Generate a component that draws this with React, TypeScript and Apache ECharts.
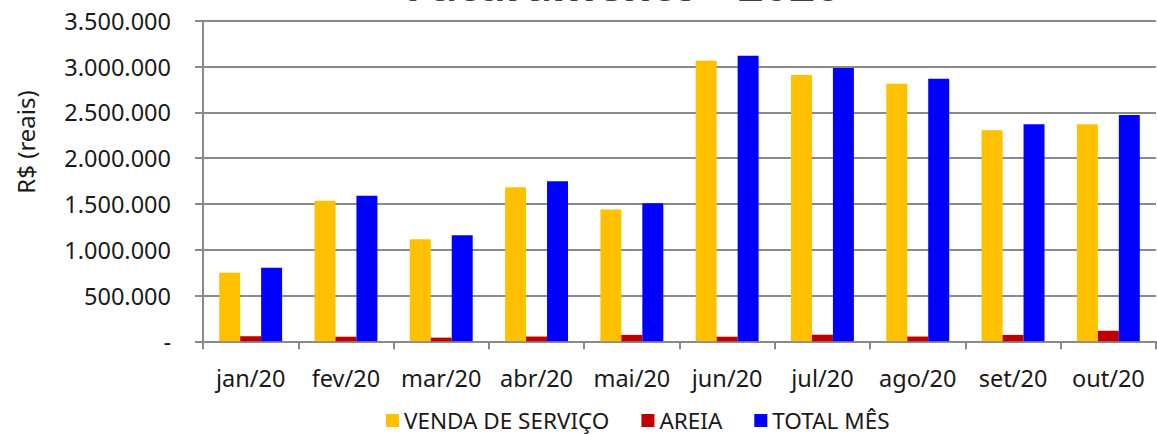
import React, { useEffect, useRef } from "react";
import * as echarts from "echarts";

const categories = ["jan/20", "fev/20", "mar/20", "abr/20", "mai/20", "jun/20", "jul/20", "ago/20", "set/20", "out/20"];
const vendaServico = [749000, 1535000, 1113000, 1681000, 1440000, 3063000, 2907000, 2812000, 2303000, 2369000];
const areia = [55000, 50000, 40000, 52000, 70000, 50000, 72000, 52000, 70000, 115000];
const totalMes = [804000, 1590000, 1157000, 1747000, 1508000, 3118000, 2984000, 2867000, 2369000, 2470000];
const seriesNames = ["VENDA DE SERVIÇO", "AREIA", "TOTAL MÊS"];
const titleText = "Faturamento - 2020";
const axisName = "R$ (reais)";

const FONT = "'Noto Sans', sans-serif";

export default function App() {
  const ref = useRef<HTMLDivElement>(null);
  useEffect(() => {
    if (!ref.current) return;
    const chart = echarts.init(ref.current, null, { renderer: "svg" });
    const fmt = (v: number) => (v === 0 ? "-" : v.toLocaleString("de-DE"));
    chart.setOption({
      animation: false,
      backgroundColor: "#ffffff",
      textStyle: { fontFamily: FONT },
      grid: { left: 203, top: 20.7, right: 1, bottom: 92.7, containLabel: false },
      graphic: [
        {
          type: "text",
          x: 623,
          y: 6,
          style: {
            text: titleText,
            align: "center",
            verticalAlign: "bottom",
            font: `bold 45px ${FONT}`,
            fill: "#404040",
          },
        },
        {
          type: "text",
          x: 25,
          y: 142,
          rotation: Math.PI / 2,
          style: {
            text: axisName,
            align: "center",
            verticalAlign: "middle",
            font: `24px ${FONT}`,
            fill: "#1a1a1a",
          },
        },
      ],
      legend: {
        top: 404,
        left: 381,
        itemWidth: 13,
        itemHeight: 13,
        itemGap: 32,
        icon: "rect",
        textStyle: { fontSize: 22.5, color: "#1a1a1a", fontFamily: FONT },
        data: seriesNames,
      },
      xAxis: {
        type: "category",
        data: categories,
        axisLine: { lineStyle: { color: "#8a8a8a", width: 2 } },
        axisTick: { show: true, length: 8, lineStyle: { color: "#8a8a8a", width: 2 } },
        axisLabel: { fontSize: 23.5, color: "#1a1a1a", margin: 25, interval: 0, fontFamily: FONT },
      },
      yAxis: {
        type: "value",
        min: 0,
        max: 3500000,
        interval: 500000,
        axisLine: { show: true, lineStyle: { color: "#8a8a8a", width: 2 } },
        axisTick: { show: true, length: 8, lineStyle: { color: "#8a8a8a", width: 2 } },
        splitLine: { show: true, lineStyle: { color: "#8a8a8a", width: 2 } },
        axisLabel: { fontSize: 23.5, color: "#1a1a1a", margin: 32, formatter: fmt, fontFamily: FONT },
      },
      series: [
        { name: seriesNames[0], type: "bar", data: vendaServico, barGap: "0%", barCategoryGap: "34%", itemStyle: { color: "#FFC000" } },
        { name: seriesNames[1], type: "bar", data: areia, barGap: "0%", barCategoryGap: "34%", itemStyle: { color: "#C00000" } },
        { name: seriesNames[2], type: "bar", data: totalMes, barGap: "0%", barCategoryGap: "34%", itemStyle: { color: "#0000FF" } },
      ],
    });
    return () => chart.dispose();
  }, []);
  return <div ref={ref} style={{ width: 1157, height: 434, position: "absolute", left: 0, top: 0 }} />;
}
